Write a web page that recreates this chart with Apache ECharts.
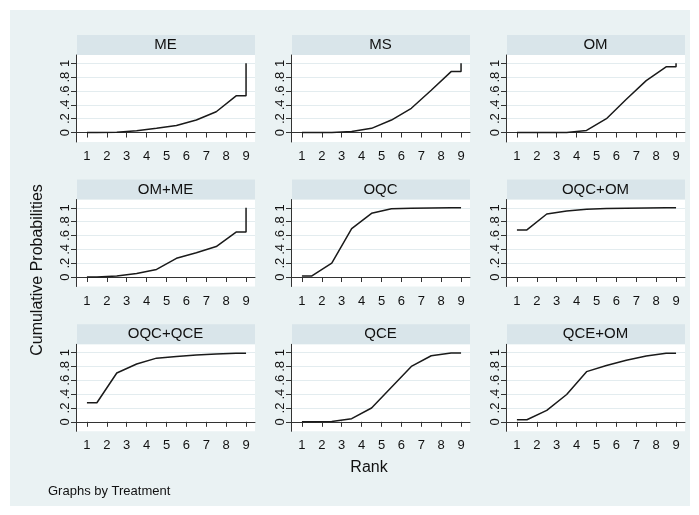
<!DOCTYPE html>
<html>
<head>
<meta charset="utf-8">
<script src="https://cdn.jsdelivr.net/npm/echarts@6/dist/echarts.min.js"></script>
<style>
html,body{margin:0;padding:0;background:#ffffff;}
#chart{width:699px;height:515px;}
</style>
</head>
<body>
<div id="chart"></div>
<script>
// Treatments (panel titles)
const treatments = ['ME', 'MS', 'OM', 'OM+ME', 'OQC', 'OQC+OM', 'OQC+QCE', 'QCE', 'QCE+OM'];
// Rank tick labels
const rankTicks = [1, 2, 3, 4, 5, 6, 7, 8, 9];
// Probability tick values
const probTicks = [0, 0.2, 0.4, 0.6, 0.8, 1];
// Cumulative probabilities for ranks 1..8 (rank 9 is 1)
const cumME     = [0, 0.005, 0.025, 0.06, 0.10, 0.18, 0.30, 0.53];
const cumMS     = [0, 0.002, 0.015, 0.06, 0.18, 0.35, 0.61, 0.88];
const cumOM     = [0, 0, 0.002, 0.03, 0.20, 0.48, 0.75, 0.95];
const cumOMME   = [0, 0.015, 0.05, 0.11, 0.27, 0.35, 0.44, 0.65];
const cumOQC    = [0.015, 0.20, 0.70, 0.92, 0.985, 0.995, 0.998, 1.0];
const cumOQCOM  = [0.68, 0.91, 0.955, 0.98, 0.99, 0.995, 0.998, 1.0];
const cumOQCQCE = [0.275, 0.705, 0.835, 0.92, 0.945, 0.965, 0.98, 0.99];
const cumQCE    = [0, 0.005, 0.045, 0.20, 0.50, 0.80, 0.955, 0.995];
const cumQCEOM  = [0.03, 0.165, 0.395, 0.725, 0.815, 0.89, 0.95, 0.99];
const allCum = [cumME, cumMS, cumOM, cumOMME, cumOQC, cumOQCOM, cumOQCQCE, cumQCE, cumQCEOM];

// build the plotted path: flat start, midpoints, flat end, final jump to 1
function buildPath(c) {
  const pts = [[1, c[0]], [1.5, c[0]]];
  for (let k = 1; k < c.length; k++) pts.push([k + 1.5, c[k]]);
  pts.push([9, c[c.length - 1]]);
  pts.push([9, 1]);
  return pts;
}

const colLeft = [76, 291, 506];
const rowTop = [55, 199.5, 344.3];
const plotW = 179, plotH = 87, headH = 20;
const FONT = 'Liberation Sans, Arial, sans-serif';

const grids = [], xAxes = [], yAxes = [], series = [], graphics = [];
graphics.push({type:'rect', shape:{x:10, y:10, width:680, height:496}, style:{fill:'#eaf2f3'}, z:-10, silent:true});

treatments.forEach((t, i) => {
  const r = Math.floor(i / 3), c = i % 3;
  const left = colLeft[c], top = rowTop[r];
  grids.push({left:left, top:top, width:plotW, height:plotH, show:true, backgroundColor:'#ffffff', borderWidth:0, containLabel:false});
  xAxes.push({
    type:'value', gridIndex:i, min:0.45, max:9.45,
    axisLine:{show:true, lineStyle:{color:'#333', width:1}},
    axisTick:{show:true, length:5, customValues:rankTicks, lineStyle:{color:'#333'}},
    axisLabel:{show:true, customValues:rankTicks, margin:8, fontSize:13, color:'#111', fontFamily:FONT},
    splitLine:{show:false}
  });
  yAxes.push({
    type:'value', gridIndex:i, min:-0.137, max:1.12,
    axisLine:{show:true, lineStyle:{color:'#333', width:1}},
    axisTick:{show:true, length:5, customValues:probTicks, lineStyle:{color:'#333'}},
    axisLabel:{show:true, customValues:probTicks, rotate:90, margin:4, fontSize:13, color:'#111', fontFamily:FONT,
      formatter: v => (v === 0 ? '0' : v === 1 ? '1' : String(v).replace(/^0\./, '.'))},
    splitLine:{show:true, lineStyle:{color:'#e3ecef', width:1}}
  });
  series.push({
    type:'line', xAxisIndex:i, yAxisIndex:i, data:buildPath(allCum[i]),
    showSymbol:false, symbol:'none', lineStyle:{color:'#1a1a1a', width:1.5}, animation:false
  });
  graphics.push({type:'rect', shape:{x:left + 1, y:top - headH, width:plotW - 1, height:headH}, style:{fill:'#d9e5ea'}, silent:true});
  graphics.push({type:'text', x:left + plotW / 2, y:top - headH / 2, style:{text:t, fill:'#111', font:'15px ' + FONT, textAlign:'center', textVerticalAlign:'middle'}, silent:true});
});

graphics.push({type:'text', x:38, y:270, rotation:Math.PI / 2, style:{text:'Cumulative Probabilities', fill:'#111', font:'16px ' + FONT, textAlign:'center', textVerticalAlign:'middle'}, silent:true});
graphics.push({type:'text', x:369, y:468, style:{text:'Rank', fill:'#111', font:'16px ' + FONT, textAlign:'center', textVerticalAlign:'middle'}, silent:true});
graphics.push({type:'text', x:48, y:491, style:{text:'Graphs by Treatment', fill:'#111', font:'13px ' + FONT, textAlign:'left', textVerticalAlign:'middle'}, silent:true});

const chart = echarts.init(document.getElementById('chart'), null, {renderer:'canvas'});
chart.setOption({
  animation:false,
  backgroundColor:'#ffffff',
  grid:grids, xAxis:xAxes, yAxis:yAxes, series:series, graphic:graphics
});
</script>
</body>
</html>
